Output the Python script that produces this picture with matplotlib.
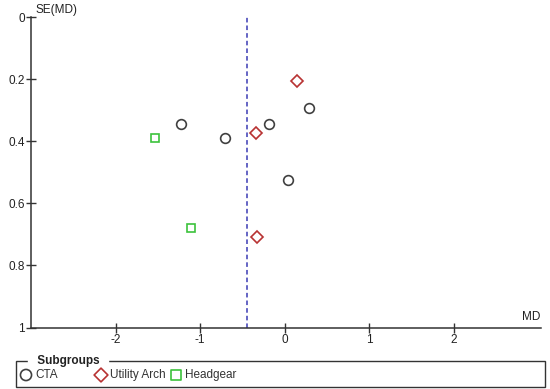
import matplotlib
matplotlib.use("Agg")
from matplotlib import pyplot as plt
from matplotlib.patches import Rectangle

plt.rcParams['font.family'] = ['Liberation Sans', 'DejaVu Sans']

# subgroup data (MD, SE(MD))
cta_md = [0.29, -1.23, -0.18, -0.71, 0.04]
cta_se = [0.291, 0.344, 0.344, 0.390, 0.526]
util_md = [0.15, -0.34, -0.33]
util_se = [0.205, 0.372, 0.707]
head_md = [-1.53, -1.11]
head_se = [0.388, 0.680]
pooled_md = -0.45

names = ["CTA", "Utility Arch", "Headgear"]
colors = ["#404040", "#b83232", "#3cc23c"]
markers = ["o", "D", "s"]
sizes = [7, 6, 6]

W, H = 550, 389
fig = plt.figure(figsize=(5.5, 3.89), dpi=100)
ax = fig.add_axes([0.0564, 0.158, 0.927, 0.7975])

groups = [(cta_md, cta_se), (util_md, util_se), (head_md, head_se)]
for (md, se), c, m, s in zip(groups, colors, markers, sizes):
    ax.plot(md, se, linestyle="none", marker=m, markersize=s,
            markerfacecolor="none", markeredgecolor=c, markeredgewidth=1.2,
            clip_on=False)

ax.axvline(pooled_md, color="#3a3ab4", linestyle=(0, (3, 2)), linewidth=1.1)

ax.set_xlim(-3, 3.03)
ax.set_ylim(1, 0)
ax.set_xticks([-2, -1, 0, 1, 2])
ax.set_xticklabels(["-2", "-1", "0", "1", "2"])
ax.set_yticks([0, 0.2, 0.4, 0.6, 0.8, 1])
ax.set_yticklabels(["0", "0.2", "0.4", "0.6", "0.8", "1"])
for sp in ["top", "right"]:
    ax.spines[sp].set_visible(False)
for sp in ["left", "bottom"]:
    ax.spines[sp].set_color("#333333")
    ax.spines[sp].set_linewidth(1.1)
ax.tick_params(direction="inout", length=7, width=1, colors="#333333",
               labelsize=8.5, labelcolor="#222222", pad=1)

fig.text(36 / W, 1 - 10 / H, "SE(MD)", fontsize=8.5, color="#222222",
         ha="left", va="center")
ax.text(0.999, 0.015, "MD", transform=ax.transAxes, fontsize=8.5,
        color="#222222", ha="right", va="bottom")

# legend box drawn in its own axes (pixel coordinates)
lax = fig.add_axes([0.0, 0.0, 1.0, 0.1], facecolor="none")
lax.set_xlim(0, W)
lax.set_ylim(0, 0.1 * H)
lax.axis("off")
lax.add_patch(Rectangle((16, H - 387), 529, 26, fill=False,
                        edgecolor="#333333", linewidth=1.0, clip_on=False))
lax.text(34, H - 361, " Subgroups ", fontsize=8.5, weight="bold",
         color="#222222", ha="left", va="center", backgroundcolor="white",
         clip_on=False)
leg_x = [26, 101, 176]
for x, n, c, m, s in zip(leg_x, names, colors, markers, sizes):
    lax.scatter([x], [H - 375], marker=m, s=(s + 1) ** 2, facecolors="none",
                edgecolors=c, linewidths=1.2, clip_on=False, zorder=5)
    lax.text(x + 9, H - 375, n, fontsize=8.5, color="#333333",
             ha="left", va="center")

fig.savefig("out.png", dpi=100)
